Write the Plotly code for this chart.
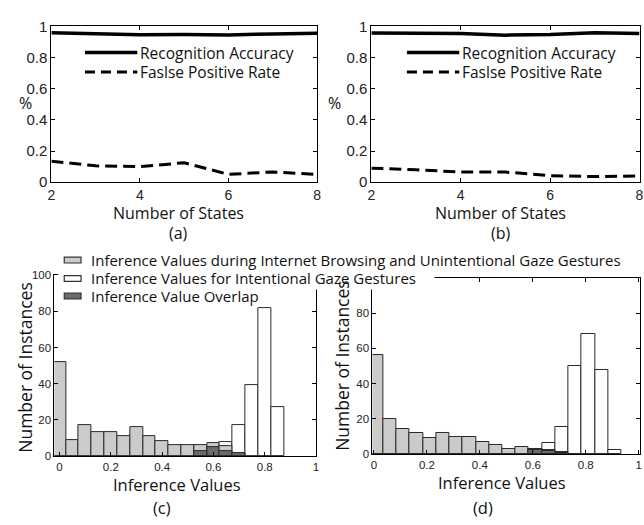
import plotly.graph_objects as go

# ---------------- data ----------------
states = [2, 3, 4, 5, 6, 7, 8]
acc_a = [0.960, 0.952, 0.946, 0.948, 0.945, 0.952, 0.956]
fpr_a = [0.135, 0.105, 0.100, 0.125, 0.050, 0.066, 0.050]
acc_b = [0.958, 0.958, 0.954, 0.944, 0.948, 0.960, 0.955]
fpr_b = [0.090, 0.080, 0.065, 0.065, 0.042, 0.036, 0.040]

centers_c = [0.00, 0.05, 0.10, 0.15, 0.20, 0.25, 0.30, 0.35, 0.40,
             0.45, 0.50, 0.55, 0.60, 0.65, 0.70, 0.75, 0.80, 0.85]
unint_c = [52, 9, 17, 13, 13, 11, 16, 11, 8, 6, 6, 6, 7, 5.5, 1.8, None, None, None]
intent_c = [None, None, None, None, None, None, None, None, None, None, None,
            4.5, 5.5, 7.7, 17, 39, 82, 27]
overlap_c = [None, None, None, None, None, None, None, None, None, None, None,
             2.8, 4.8, 2.8, 1.8, None, None, None]

centers_d = [0.01, 0.06, 0.11, 0.16, 0.21, 0.26, 0.31, 0.36, 0.41, 0.46,
             0.51, 0.56, 0.61, 0.66, 0.71, 0.76, 0.81, 0.86, 0.91]
unint_d = [56, 20, 14, 12, 9, 12, 10, 10, 7, 5, 3, 4, 3.1, 2.2, 1, None, None, None, None]
intent_d = [None, None, None, None, None, None, None, None, None, None, None, None,
            2.8, 6.3, 15.5, 50, 68, 48, 2.2]
overlap_d = [None, None, None, None, None, None, None, None, None, None, None, None,
             2.4, 1.8, 0.8, None, None, None, None]

y_ticks_top = [0, 0.2, 0.4, 0.6, 0.8, 1]
y_text_top = ["0", "0.2", "0.4", "0.6", "0.8", "1"]
x_ticks_top = [2, 4, 6, 8]
x_ticks_bot = [0, 0.2, 0.4, 0.6, 0.8, 1]
x_text_bot = ["0", "0.2", "0.4", "0.6", "0.8", "1"]
y_ticks_c = [0, 20, 40, 60, 80, 100]
y_ticks_d = [0, 20, 40, 60, 80]

leg_top = ["Recognition Accuracy", "Faslse Positive Rate"]
leg_bot = ["Inference Values during Internet Browsing and Unintentional Gaze Gestures",
           "Inference Values for Intentional Gaze Gestures",
           "Inference Value Overlap"]

# ---------------- style ----------------
W, H = 644, 525
def px(x): return x / W
def py(y): return 1 - y / H

GRAY = "#cdcaca"
DARK = "#6b6b6b"
EDGE = "#2a2a2a"
TXT = "Open Sans, Lato, sans-serif"
TICKF = "Liberation Sans Narrow, Arial Narrow, Liberation Sans, sans-serif"

fig = go.Figure()

# top line charts
for acc, fpr, xa, ya in [(acc_a, fpr_a, "x", "y"), (acc_b, fpr_b, "x2", "y2")]:
    fig.add_trace(go.Scatter(x=states, y=acc, mode="lines", xaxis=xa, yaxis=ya,
                             line=dict(color="black", width=3.5)))
    fig.add_trace(go.Scatter(x=states, y=fpr, mode="lines", xaxis=xa, yaxis=ya,
                             line=dict(color="black", width=3, dash="12px,6px")))

# histograms
for cen, un, it, ov, xa, ya in [(centers_c, unint_c, intent_c, overlap_c, "x3", "y3"),
                                (centers_d, unint_d, intent_d, overlap_d, "x4", "y4")]:
    fig.add_trace(go.Bar(x=cen, y=it, width=0.05, xaxis=xa, yaxis=ya,
                         marker=dict(color="white", line=dict(color=EDGE, width=1))))
    fig.add_trace(go.Bar(x=cen, y=un, width=0.05, xaxis=xa, yaxis=ya,
                         marker=dict(color=GRAY, line=dict(color=EDGE, width=1))))
    fig.add_trace(go.Bar(x=cen, y=ov, width=0.05, xaxis=xa, yaxis=ya,
                         marker=dict(color=DARK, line=dict(color=EDGE, width=1))))

def ax(domain, rng, tv, tt=None, anchor=None, size=14):
    d = dict(domain=domain, range=rng, tickvals=tv, showline=True, linecolor="black",
             linewidth=1, mirror="ticks", ticks="inside", ticklen=4, tickcolor="black",
             showgrid=False, zeroline=False, anchor=anchor,
             tickfont=dict(family=TICKF, size=size, color="#222"))
    if tt is not None:
        d["ticktext"] = tt
    return d

fig.update_layout(
    width=W, height=H, margin=dict(l=0, r=0, t=0, b=0),
    paper_bgcolor="white", plot_bgcolor="white", showlegend=False,
    barmode="overlay", bargap=0,
    xaxis=ax([px(48), px(317)], [2, 8], x_ticks_top, anchor="y"),
    yaxis=ax([py(179), py(18)], [0, 1], y_ticks_top, y_text_top, anchor="x", size=15),
    xaxis2=ax([px(372), px(643.5)], [2, 8], x_ticks_top, anchor="y2"),
    yaxis2=ax([py(179), py(18)], [0, 1], y_ticks_top, y_text_top, anchor="x2", size=15),
    xaxis3=ax([px(51), px(316)], [-0.02, 1.0], x_ticks_bot, x_text_bot, anchor="y3", size=11.5),
    yaxis3=ax([py(462), py(275)], [0, 100], y_ticks_c, anchor="x3", size=11.5),
    xaxis4=ax([px(373), px(644)], [-0.006, 1.005], x_ticks_bot, x_text_bot, anchor="y4", size=11.5),
    yaxis4=ax([py(460), py(278)], [0, 100], y_ticks_d, anchor="x4", size=11.5),
)

shapes = []
annos = []

def text(x, y, s, size=16, xanchor="center", angle=0):
    annos.append(dict(x=px(x), y=py(y), xref="paper", yref="paper", text=s,
                      showarrow=False, xanchor=xanchor, yanchor="middle", textangle=angle,
                      borderpad=0,
                      font=dict(family=TXT, size=size, color="#111")))

# top legends
for x0 in [82, 408]:
    shapes.append(dict(type="line", xref="paper", yref="paper", layer="above",
                       x0=px(x0), x1=px(x0 + 53), y0=py(45), y1=py(45),
                       line=dict(color="black", width=3.5)))
    shapes.append(dict(type="line", xref="paper", yref="paper", layer="above",
                       x0=px(x0), x1=px(x0 + 53), y0=py(65), y1=py(65),
                       line=dict(color="black", width=3, dash="10px,6px")))
    text(x0 + 55, 45, leg_top[0], size=15.5, xanchor="left")
    text(x0 + 55, 65, leg_top[1], size=15.5, xanchor="left")

# top axis labels
text(22, 97, "%", size=16)
text(335, 97, "%", size=16)
text(177, 211, "Number of States", size=16)
text(503, 211, "Number of States", size=16)
text(177, 232, "(a)", size=16)
text(503, 232, "(b)", size=16)

# white legend area for bottom panel
for (x0, x1, y0, y1) in [(55, 640, 248, 267), (55, 436, 267, 290), (55, 265, 290, 306)]:
    shapes.append(dict(type="rect", xref="paper", yref="paper", layer="above",
                       x0=px(x0), x1=px(x1), y0=py(y1), y1=py(y0),
                       fillcolor="white", line=dict(width=0)))

for yc, col, s in [(259.5, GRAY, leg_bot[0]), (278.5, "white", leg_bot[1]), (296.5, DARK, leg_bot[2])]:
    shapes.append(dict(type="rect", xref="paper", yref="paper", layer="above",
                       x0=px(61), x1=px(78), y0=py(yc + 3), y1=py(yc - 3),
                       fillcolor=col, line=dict(color="#333", width=1.2)))
    text(87, yc, s, size=15, xanchor="left")

# bottom axis labels
text(21, 370, "Number of Instances", size=17.5, angle=-90)
text(342, 368, "Number of Instances", size=17.5, angle=-90)
text(175, 491, "Inference Values", size=16.5)
text(504, 489, "Inference Values", size=16.5)
text(160, 515, "(c)", size=16.5)
text(485, 515, "(d)", size=16.5)

fig.update_layout(shapes=shapes, annotations=annos)
fig.write_html("out.html", config={"displayModeBar": False},
               post_script="document.body.style.margin='0';document.body.style.overflow='hidden';")
